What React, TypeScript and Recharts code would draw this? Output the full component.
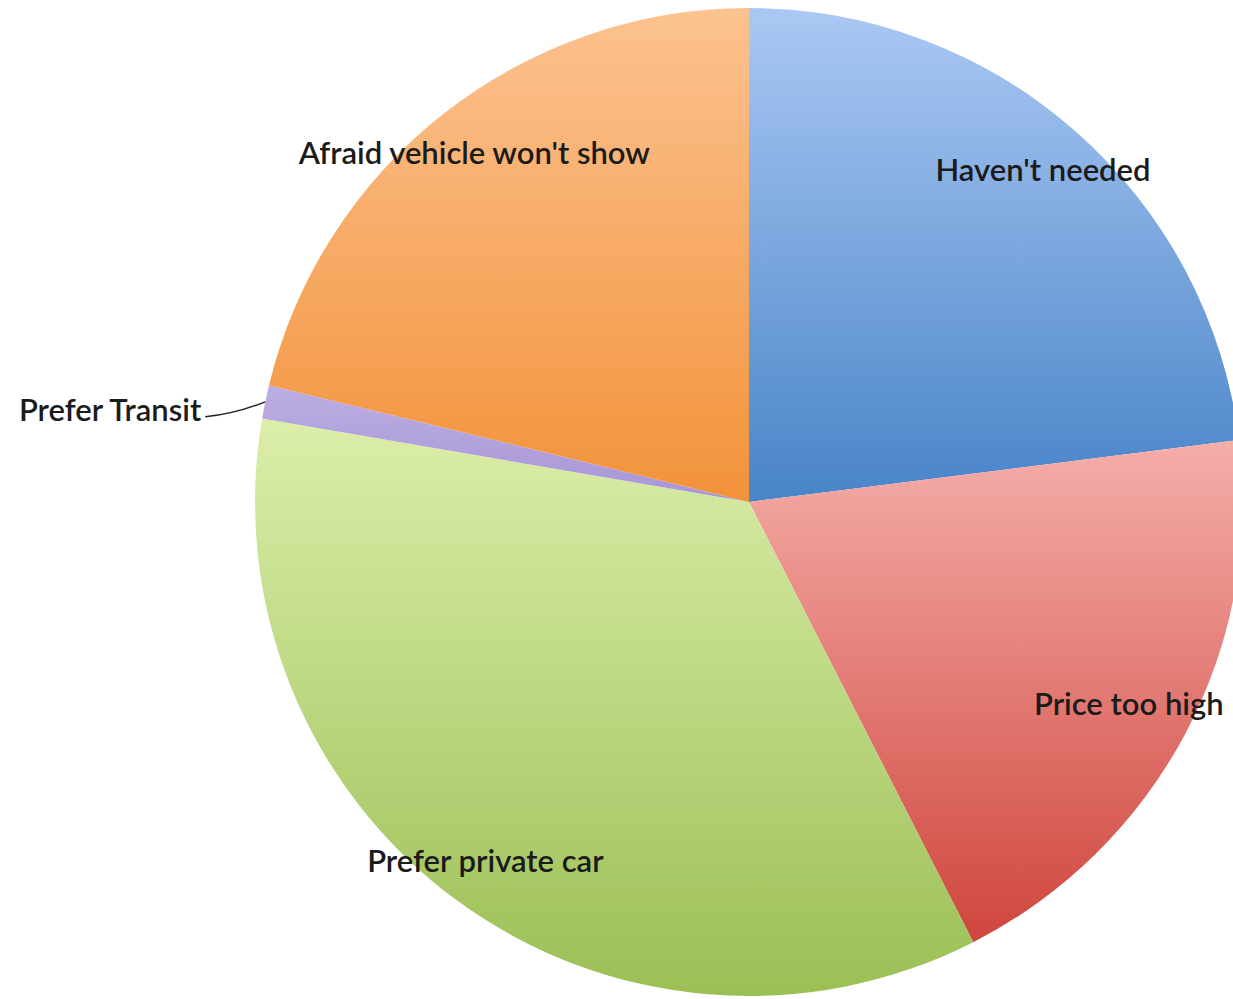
import { PieChart, Pie, Cell } from "recharts";

// Reasons for not using the service (share of respondents, %)
const reasons = [
  "Haven't needed",
  "Price too high",
  "Prefer private car",
  "Prefer Transit",
  "Afraid vehicle won't show",
];
const shares = [23.0, 19.5, 35.2, 1.1, 21.2];

// top / bottom colours of each slice's gradient
const topColors = ["#aac8f3", "#f5aeaa", "#dbeeaa", "#bcaee2", "#fcc290"];
const bottomColors = ["#4884c8", "#cf463d", "#9bbf55", "#a895d6", "#f2923a"];

const data = reasons.map((name, i) => ({ name, value: shares[i] }));

const RADIAN = Math.PI / 180;

const renderLabel = (props: any) => {
  const { cx, cy, midAngle, outerRadius, name } = props;
  const cos = Math.cos(-midAngle * RADIAN);
  const sin = Math.sin(-midAngle * RADIAN);
  const textStyle = {
    fontFamily: "Lato, 'Open Sans', sans-serif",
    fontSize: 31,
    fontWeight: 600,
    fill: "#1b1b1b",
  };

  if (name === "Prefer Transit") {
    // small slice: label outside with a leader line
    const sx = cx + outerRadius * cos;
    const sy = cy + outerRadius * sin;
    const ex = sx - 60;
    const ey = sy + 15;
    return (
      <g>
        <path
          d={`M${sx},${sy} Q${sx - 30},${sy + 12} ${ex},${ey}`}
          stroke="#222"
          strokeWidth={1.5}
          fill="none"
        />
        <text x={ex - 4} y={ey - 8} textAnchor="end" dominantBaseline="central" style={textStyle}>
          {name}
        </text>
      </g>
    );
  }

  const r = outerRadius * (name === "Price too high" ? 0.87 : 0.9);
  const x = cx + r * cos;
  const y = cy + r * sin;
  return (
    <text x={x} y={y} textAnchor="middle" dominantBaseline="central" style={textStyle}>
      {name}
    </text>
  );
};

export default function App() {
  return (
    <div style={{ position: "fixed", left: 0, top: 0, width: 1233, height: 999, background: "#fff" }}>
      <PieChart width={1233} height={999} margin={{ top: 0, right: 0, bottom: 0, left: 0 }}>
        <defs>
          {reasons.map((_, i) => (
            <linearGradient key={i} id={`slice${i}`} x1="0" y1="0" x2="0" y2="1">
              <stop offset="0%" stopColor={topColors[i]} />
              <stop offset="100%" stopColor={bottomColors[i]} />
            </linearGradient>
          ))}
        </defs>
        <Pie
          data={data}
          dataKey="value"
          nameKey="name"
          cx={749}
          cy={502}
          outerRadius={494}
          startAngle={90}
          endAngle={-270}
          stroke="none"
          label={renderLabel}
          labelLine={false}
          isAnimationActive={false}
        >
          {data.map((_, i) => (
            <Cell key={i} fill={`url(#slice${i})`} />
          ))}
        </Pie>
      </PieChart>
    </div>
  );
}
